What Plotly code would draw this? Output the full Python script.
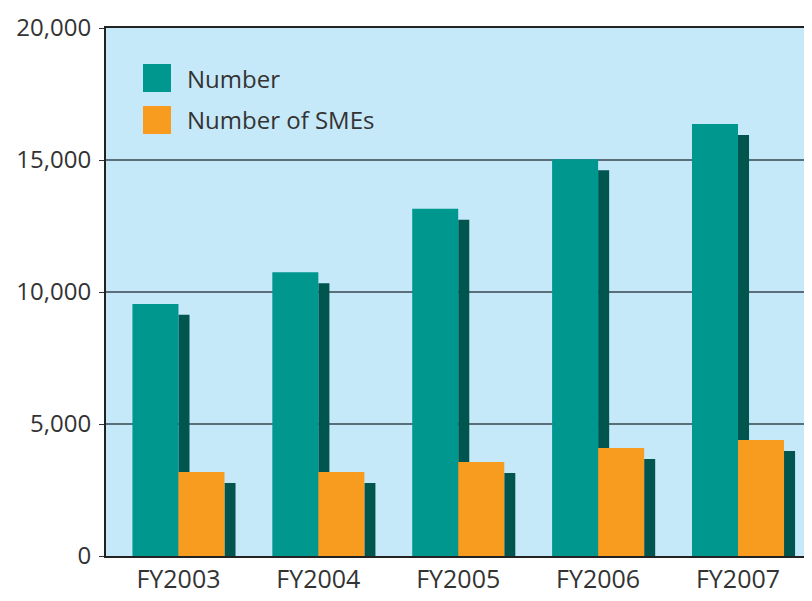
import plotly.graph_objects as go

categories = ["FY2003", "FY2004", "FY2005", "FY2006", "FY2007"]
number = [9550, 10750, 13150, 15030, 16360]
number_smes = [3180, 3180, 3560, 4090, 4390]
series_names = ["Number", "Number of SMEs"]
y_tickvals = [0, 5000, 10000, 15000, 20000]
y_ticktext = ["0", "5,000", "10,000", "15,000", "20,000"]

TEAL = "#00978f"
ORANGE = "#f89c1f"
SHADOW = "#00554f"
BG = "#c6e9f9"
FONT = "Open Sans"
TXT = "#333333"

BAR_W = 0.329
SH_W = 0.079
SH_DROP = 415

# page body has an 8px margin; figure is sized to fill the rest of the window
OFF = 8
W, H = 812 - OFF, 601 - OFF
L, R, T, B = 106 - OFF, 0, 28 - OFF, 45

fig = go.Figure()
# shadows (drawn first)
fig.add_bar(x=categories, y=number, base=-SH_DROP, offset=0, width=SH_W,
            marker=dict(color=SHADOW, line=dict(width=0)), showlegend=False, hoverinfo="skip")
fig.add_bar(x=categories, y=number_smes, base=-SH_DROP, offset=BAR_W, width=SH_W,
            marker=dict(color=SHADOW, line=dict(width=0)), showlegend=False, hoverinfo="skip")
# main bars
fig.add_bar(x=categories, y=number, offset=-BAR_W, width=BAR_W, name=series_names[0],
            marker=dict(color=TEAL, line=dict(width=0)), showlegend=False)
fig.add_bar(x=categories, y=number_smes, offset=0, width=BAR_W, name=series_names[1],
            marker=dict(color=ORANGE, line=dict(width=0)), showlegend=False)

pw = W - L - R
ph = H - T - B


def px_x(p):
    return (p - OFF - L) / pw


def px_y(p):
    return (H - B - (p - OFF)) / ph


shapes = []
annotations = []
legend_items = [(series_names[0], TEAL, 64), (series_names[1], ORANGE, 106)]
for name, col, top in legend_items:
    shapes.append(dict(type="rect", xref="paper", yref="paper",
                       x0=px_x(143), x1=px_x(171), y0=px_y(top + 28), y1=px_y(top),
                       fillcolor=col, line=dict(width=0)))
    annotations.append(dict(xref="paper", yref="paper", x=px_x(185), y=px_y(top + 14),
                            text=name, showarrow=False, xanchor="left", yanchor="middle",
                            font=dict(family=FONT, size=24, color=TXT)))

fig.update_layout(
    width=W, height=H,
    margin=dict(l=L, r=R, t=T, b=B),
    paper_bgcolor="white",
    plot_bgcolor=BG,
    barmode="overlay",
    shapes=shapes,
    annotations=annotations,
    showlegend=False,
    font=dict(family=FONT, size=24, color=TXT),
)
fig.update_xaxes(
    range=[-0.518, 4.529],
    showgrid=False, zeroline=False,
    showline=True, linecolor="#222222", linewidth=2, mirror=True,
    ticks="", tickfont=dict(family=FONT, size=25, color=TXT),
)
fig.update_yaxes(
    range=[0, 20000],
    tickvals=y_tickvals, ticktext=y_ticktext,
    showgrid=True, gridcolor="#5b6f7b", gridwidth=2,
    zeroline=False,
    showline=True, linecolor="#222222", linewidth=2, mirror=False,
    ticks="outside", ticklen=5, tickcolor="#333333", tickwidth=1,
    ticklabelstandoff=3,
    tickfont=dict(family=FONT, size=24, color=TXT),
)

fig.write_html("out.html")
